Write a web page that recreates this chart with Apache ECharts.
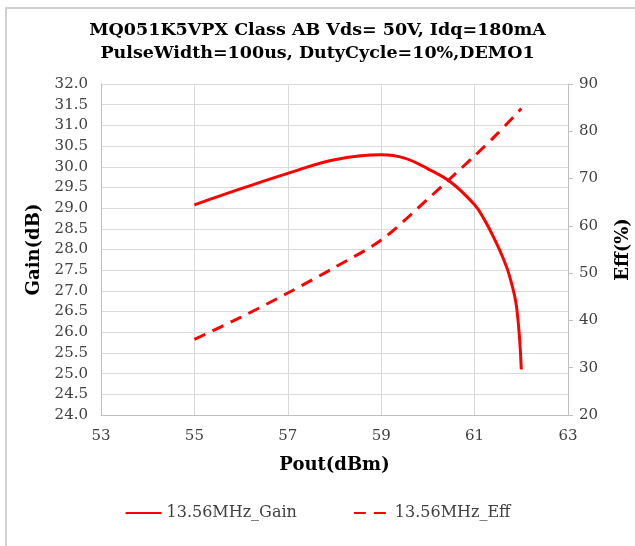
<!DOCTYPE html>
<html>
<head>
<meta charset="utf-8">
<script src="https://cdn.jsdelivr.net/npm/echarts@6/dist/echarts.min.js"></script>
<style>
  html, body { margin: 0; padding: 0; background: #fff; }
  #chart { width: 635px; height: 546px; }
</style>
</head>
<body>
<div id="chart"></div>
<script>
// Pout (dBm) sample points
var gainPout = [55, 56, 57, 58, 59, 59.5, 60, 60.5, 61, 61.2, 61.4, 61.6, 61.75, 61.9, 62];
var gainValues = [29.08, 29.47, 29.84, 30.17, 30.29, 30.21, 29.95, 29.62, 29.08, 28.74, 28.31, 27.82, 27.35, 26.6, 25.1];

var effPout = [55, 56, 57, 58, 59, 60, 61, 61.5, 62];
var effValues = [36.0, 40.7, 45.8, 51.2, 57.0, 65.7, 74.8, 79.6, 84.8];

var gainName = "13.56MHz_Gain";
var effName = "13.56MHz_Eff";

var titleLines = [
  "MQ051K5VPX Class AB Vds= 50V, Idq=180mA",
  "PulseWidth=100us, DutyCycle=10%,DEMO1"
];

function pairs(xs, ys) {
  return xs.map(function (x, i) { return [x, ys[i]]; });
}

var serif = "DejaVu Serif";
var labelColor = "#404040";
var nameStyle = { fontFamily: serif, fontWeight: "bold", fontSize: 18, color: "#000" };

var chart = echarts.init(document.getElementById("chart"));
var option = {
  backgroundColor: "#fff",
  animation: false,
  title: {
    text: titleLines.join("\n"),
    left: "center",
    top: 14,
    textStyle: {
      fontFamily: serif,
      fontWeight: "bold",
      fontSize: 17.5,
      lineHeight: 23,
      color: "#000"
    }
  },
  graphic: [
    {
      type: "polyline",
      shape: { points: [[6, 546], [6, 8], [635, 8]] },
      style: { stroke: "#d0d0d0", lineWidth: 2, fill: null }
    }
  ],
  legend: {
    bottom: 20,
    left: "center",
    itemGap: 56,
    itemWidth: 36,
    itemHeight: 12,
    itemStyle: { opacity: 0 },
    textStyle: { fontFamily: serif, fontSize: 16, color: labelColor },
    data: [gainName, effName]
  },
  grid: { left: 101, right: 67, top: 84, bottom: 131, outerBoundsMode: "none" },
  xAxis: {
    type: "value",
    min: 53,
    max: 63,
    interval: 2,
    name: "Pout(dBm)",
    nameLocation: "middle",
    nameGap: 41,
    nameTextStyle: nameStyle,
    axisLine: { lineStyle: { color: "#bfbfbf", width: 1 } },
    axisTick: { show: false },
    axisLabel: { fontFamily: serif, fontSize: 15, color: labelColor, margin: 14 },
    splitLine: { show: true, lineStyle: { color: "#d9d9d9", width: 1 } }
  },
  yAxis: [
    {
      type: "value",
      min: 24,
      max: 32,
      interval: 0.5,
      position: "left",
      name: "Gain(dB)",
      nameLocation: "middle",
      nameRotate: 90,
      nameGap: 57,
      nameTextStyle: nameStyle,
      axisLine: { show: true, lineStyle: { color: "#bfbfbf", width: 1 } },
      axisTick: { show: false },
      axisLabel: {
        fontFamily: serif, fontSize: 15, color: labelColor, margin: 13,
        formatter: function (v) { return v.toFixed(1); }
      },
      splitLine: { show: true, lineStyle: { color: "#d9d9d9", width: 1 } }
    },
    {
      type: "value",
      min: 20,
      max: 90,
      interval: 10,
      position: "right",
      name: "Eff(%)",
      nameLocation: "middle",
      nameRotate: 90,
      nameGap: 46,
      nameTextStyle: nameStyle,
      axisLine: { show: true, lineStyle: { color: "#bfbfbf", width: 1 } },
      axisTick: { show: true, length: 5, lineStyle: { color: "#bfbfbf" } },
      axisLabel: { fontFamily: serif, fontSize: 15, color: labelColor, margin: 11 },
      splitLine: { show: false }
    }
  ],
  series: [
    {
      name: gainName,
      type: "line",
      yAxisIndex: 0,
      data: pairs(gainPout, gainValues),
      smooth: 0.4,
      showSymbol: false,
      symbol: "none",
      itemStyle: { color: "#ff0000" },
      lineStyle: { color: "#ff0000", width: 3 }
    },
    {
      name: effName,
      type: "line",
      yAxisIndex: 1,
      data: pairs(effPout, effValues),
      smooth: 0.3,
      showSymbol: false,
      symbol: "none",
      itemStyle: { color: "#ff0000" },
      lineStyle: { color: "#ff0000", width: 3, type: [12, 8] }
    }
  ]
};
chart.setOption(option);
</script>
</body>
</html>
